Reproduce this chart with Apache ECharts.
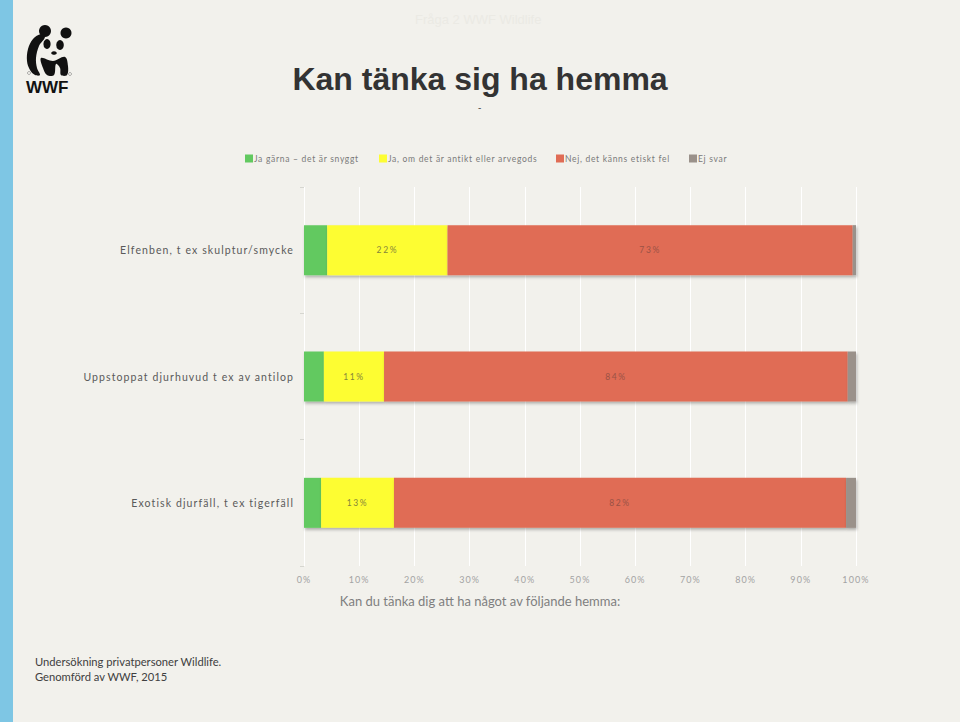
<!DOCTYPE html>
<html>
<head>
<meta charset="utf-8">
<script src="https://cdn.jsdelivr.net/npm/echarts@6/dist/echarts.min.js"></script>
<style>
html,body{margin:0;padding:0;background:#f2f1ec;}
#main{width:960px;height:722px;}
#main text[style*="sans-serif"]{letter-spacing:1.1px;}
#main text[style*="Arial"]{letter-spacing:0.7px;}
#main text[style*="Verdana"]{letter-spacing:1.6px;}
#main text[style*="Tahoma"]{letter-spacing:1.1px;}
</style>
</head>
<body>
<div id="main"></div>
<script>
const categories = ['Elfenben, t ex skulptur/smycke', 'Uppstoppat djurhuvud t ex av antilop', 'Exotisk djurfäll, t ex tigerfäll'];
const seriesNames = ['Ja gärna – det är snyggt', 'Ja, om det är antikt eller arvegods', 'Nej, det känns etiskt fel', 'Ej svar'];
const jaGarna = [4.2, 3.6, 3.1];
const jaAntikt = [21.8, 10.9, 13.2];
const nej = [73.4, 84.0, 81.9];
const ejSvar = [0.6, 1.5, 1.8];
const labelShown = [false, true, true, false];
const xTicks = [0, 10, 20, 30, 40, 50, 60, 70, 80, 90, 100];
const titleText = 'Kan tänka sig ha hemma';
const axisTitle = 'Kan du tänka dig att ha något av följande hemma:';
const footer = ['Undersökning privatpersoner Wildlife.', 'Genomförd av WWF, 2015'];
const faintText = 'Fråga 2 WWF Wildlife';

const FONT_CAT = 'Lato, sans-serif';
const FONT_LEG = 'Lato, Arial';
const FONT_LBL = 'Lato, Verdana';
const FONT_TICK = 'Lato, Tahoma';
const colors = ['#62c960', '#fdfd33', '#e06c55', '#9a918a'];
const labelColors = ['#555', '#85853a', '#9a5245', '#555'];
const values = [jaGarna, jaAntikt, nej, ejSvar];
const legendLeft = [240, 374, 551, 684];

const chart = echarts.init(document.getElementById('main'), null, {renderer: 'svg'});

const series = seriesNames.map((name, i) => ({
  name: name,
  type: 'bar',
  stack: 'total',
  barWidth: 50,
  data: values[i],
  itemStyle: {
    color: colors[i],
    shadowColor: 'rgba(0,0,0,0.28)',
    shadowBlur: 3,
    shadowOffsetX: 1,
    shadowOffsetY: 2
  },
  label: {
    show: labelShown[i],
    position: 'inside',
    color: labelColors[i],
    fontSize: 8.5,
    fontFamily: FONT_LBL,
    formatter: p => Math.round(p.value) + '%'
  },
  emphasis: {disabled: true}
}));

const legends = seriesNames.map((name, i) => ({
  data: [name],
  left: legendLeft[i],
  top: 149,
  itemWidth: 8,
  itemHeight: 8,
  icon: 'rect',
  selectedMode: false,
  textStyle: {color: '#7a7a7a', fontSize: 8.5, fontFamily: FONT_LEG, padding: [0, 0, 0, -4]}
}));

function ell(cx, cy, rx, ry) {
  return {type: 'circle', x: cx, y: cy, scaleX: rx / ry, shape: {cx: 0, cy: 0, r: ry}, style: {fill: '#111'}};
}
function poly(pts) {
  return {type: 'polygon', shape: {points: pts, smooth: 0.35}, style: {fill: '#111'}};
}

chart.setOption({
  animation: false,
  backgroundColor: '#f2f1ec',
  title: {
    text: titleText,
    left: 'center',
    top: 58,
    textStyle: {fontFamily: 'Liberation Sans', fontWeight: 'bold', fontSize: 32, color: '#333333'}
  },
  legend: legends,
  grid: {left: 304, right: 104, top: 187, bottom: 156, containLabel: false},
  xAxis: {
    type: 'value',
    min: xTicks[0],
    max: xTicks[xTicks.length - 1],
    interval: xTicks[1] - xTicks[0],
    axisLine: {show: false},
    axisTick: {show: false},
    splitLine: {lineStyle: {color: '#ffffff', width: 1}},
    axisLabel: {color: '#a3a3a3', fontSize: 9, fontFamily: FONT_TICK, margin: 9, formatter: '{value}%'}
  },
  yAxis: {
    type: 'category',
    data: categories,
    inverse: true,
    axisLine: {show: false},
    axisTick: {show: true, length: 4, lineStyle: {color: '#d6d6d0'}},
    axisLabel: {color: '#5a5a5a', fontSize: 10.5, fontFamily: FONT_CAT, margin: 10}
  },
  series: series,
  graphic: [
    {type: 'rect', shape: {x: 0, y: 0, width: 13, height: 722}, style: {fill: '#7ec6e4'}, z: 10},
    {type: 'text', x: 415, y: 13, style: {text: faintText, fill: '#ebeae4', fontSize: 13, fontFamily: 'Liberation Sans'}},
    {type: 'text', x: 478, y: 102, style: {text: '-', fill: '#555', fontSize: 10, fontFamily: 'Liberation Sans'}},
    {type: 'text', x: 480, y: 601, style: {text: axisTitle, fill: '#7f7f7f', fontSize: 13, fontFamily: 'Lato', textAlign: 'center', textVerticalAlign: 'middle'}},
    {type: 'text', x: 35, y: 656, style: {text: footer[0], fill: '#404040', fontSize: 11.2, fontFamily: 'Lato'}},
    {type: 'text', x: 35, y: 671, style: {text: footer[1], fill: '#404040', fontSize: 11.2, fontFamily: 'Lato'}},
    {type: 'group', x: 25, y: 24, children: [
      {type: 'circle', shape: {cx: 20, cy: 7, r: 6}, style: {fill: '#111'}},
      {type: 'circle', shape: {cx: 41, cy: 9, r: 5.5}, style: {fill: '#111'}},
      poly([[16, 10], [8, 15], [3, 25], [2, 37], [5, 46], [10, 51], [15, 51], [12, 44], [11, 34], [14, 22], [20, 13]]),
      ell(22, 20, 3.6, 5),
      ell(35, 21, 3.8, 5),
      ell(29, 29, 2.8, 1.8),
      poly([[16, 34], [28, 37], [40, 33], [43, 42], [42, 51], [36, 51], [35, 44], [31, 40], [29, 51], [22, 51], [18, 44]]),
      {type: 'circle', shape: {cx: 4, cy: 49, r: 1.5}, style: {fill: 'none', stroke: '#777', lineWidth: 0.6}},
      {type: 'circle', shape: {cx: 45, cy: 50, r: 1.5}, style: {fill: 'none', stroke: '#777', lineWidth: 0.6}},
      {type: 'text', x: 1, y: 55, style: {text: 'WWF', fill: '#111', fontSize: 17, fontWeight: 'bold', fontFamily: 'Liberation Sans'}}
    ]}
  ]
});
</script>
</body>
</html>
